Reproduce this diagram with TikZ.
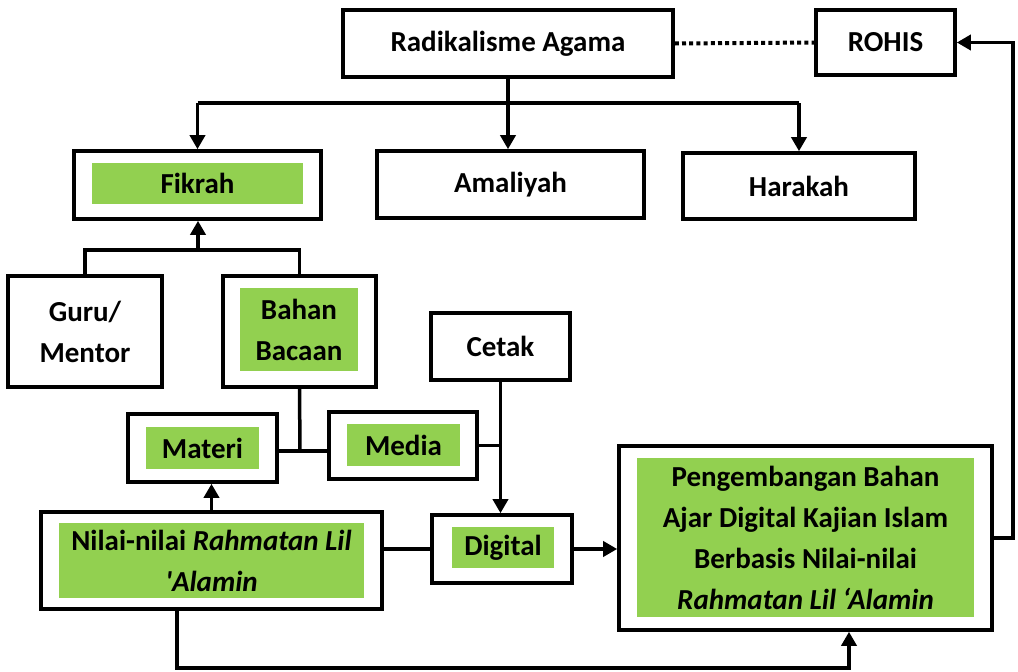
\documentclass[tikz,border=0pt]{standalone}
\usepackage{fontspec}
\setmainfont{Carlito}[Ligatures=TeXOff]
\usetikzlibrary{arrows.meta}
\definecolor{leaf}{HTML}{92D050}
\begin{document}
\begin{tikzpicture}[x=1pt,y=-1pt,
  every node/.style={font=\fontsize{29}{41}\selectfont\bfseries, align=center, inner sep=0pt},
  box/.style={draw, line width=3.6pt, rectangle},
  fillbox/.style={fill=leaf, rectangle},
  link/.style={line width=3.5pt},
  arr/.style={line width=3.5pt, -{Triangle[width=15pt,length=14pt]}}]
\useasboundingbox (0,0) rectangle (1018,672);

% outer frames
\node[box, minimum width=330pt, minimum height=67pt] (rad) at (508,43.5) {Radikalisme Agama};
\node[box, minimum width=139pt, minimum height=65pt] (rohis) at (885.5,42.5) {ROHIS};
\node[box, minimum width=247pt, minimum height=68pt] (fikrah) at (197.5,185) {};
\node[box, minimum width=267pt, minimum height=67pt] (amal) at (510.5,184.5) {Amaliyah};
\node[box, minimum width=232pt, minimum height=66pt] (hara) at (799,186) {Harakah};
\node[box, minimum width=154pt, minimum height=111pt] (guru) at (85,331.5) {Guru/\\Mentor};
\node[box, minimum width=153pt, minimum height=111pt] (bahan) at (299.5,331.5) {};
\node[box, minimum width=139pt, minimum height=67pt] (cetak) at (500.5,346.5) {Cetak};
\node[box, minimum width=149pt, minimum height=68pt] (materi) at (202.5,448) {};
\node[box, minimum width=148pt, minimum height=67pt] (media) at (403,445.5) {};
\node[box, minimum width=341pt, minimum height=97pt] (nilai) at (211.5,560.5) {};
\node[box, minimum width=140pt, minimum height=68pt] (digital) at (502,549) {};
\node[box, minimum width=373pt, minimum height=184pt] (peng) at (805.5,538) {};

% green panels with labels
\node[fillbox, minimum width=211pt, minimum height=41pt] (fikrahT) at (197.5,183.5) {Fikrah};
\node[fillbox, minimum width=118pt, minimum height=83pt] (bahanT) at (299,329.5) {Bahan\\Bacaan};
\node[fillbox, minimum width=113pt, minimum height=42pt] (materiT) at (202.5,448) {Materi};
\node[fillbox, minimum width=113pt, minimum height=42pt] (mediaT) at (403.5,445) {Media};
\node[fillbox, minimum width=305pt, minimum height=75pt] (nilaiT) at (211.5,560.5)
  {Nilai-nilai \textit{Rahmatan Lil}\\\textit{'Alamin}};
\node[fillbox, minimum width=102pt, minimum height=41pt] (digitalT) at (503,547.5) {Digital};
\node[fillbox, minimum width=337pt, minimum height=159pt] (pengT) at (805.5,537.5)
  {Pengembangan Bahan\\Ajar Digital Kajian Islam\\Berbasis Nilai-nilai\\\textit{Rahmatan Lil ‘Alamin}};

% helper points for routed connectors
\coordinate (split) at (510,103);
\coordinate (gj) at (198,250);
\coordinate (mj) at (300,451);
\coordinate (fb) at (1013,0);
\coordinate (b1) at (177,668);
\coordinate (b2) at (849,668);

% Radikalisme Agama branches
\draw[arr] (rad.south) -- (rad.south |- amal.north);
\draw[link] (split -| fikrah.north) -- (split -| hara.north);
\draw[arr] (split -| fikrah.north) -- (fikrah.north);
\draw[arr] (split -| hara.north) -- (hara.north);
\draw[line width=4pt, dash pattern=on 4pt off 3.2pt] (rad.east) -- (rohis.west);

% Guru / Bahan Bacaan into Fikrah
\draw[link] (guru.north) |- (gj -| bahan.north) -- (bahan.north);
\draw[arr] (gj) -- (gj |- fikrah.south);

% Materi, Bahan Bacaan, Media junction
\draw[link] (bahan.south) -- (mj);
\draw[link] (materi.east |- mj) -- (media.west |- mj);
\draw[link] (media.east) -- (media.east -| cetak.south);
\draw[arr] (cetak.south) -- (cetak.south |- digital.north);

% Nilai-nilai connections
\draw[arr] (nilai.north) -- (nilai.north |- materi.south);
\draw[link] (nilai.east |- digital.west) -- (digital.west);
\draw[arr] (digital.east) -- (digital.east -| peng.west);
\draw[arr] (nilai.south -| b1) -- (b1) -- (b2) -- (b2 |- peng.south);

% feedback to ROHIS
\draw[arr] (peng.east) -- (peng.east -| fb) -- (fb |- rohis.east) -- (rohis.east);
\end{tikzpicture}
\end{document}
